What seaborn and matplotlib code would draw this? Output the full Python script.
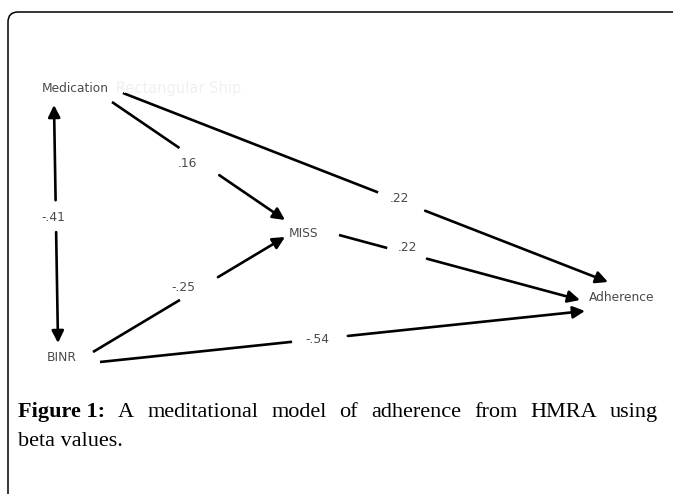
import numpy as np
import matplotlib
matplotlib.use("Agg")
import matplotlib.pyplot as plt
from matplotlib.path import Path
from matplotlib.patches import PathPatch
import seaborn as sns

# path model: variables and beta weights
nodes = ["Medication", "MISS", "BINR", "Adherence"]
sources = ["Medication", "Medication", "MISS", "BINR", "BINR", "Medication"]
targets = ["MISS", "Adherence", "Adherence", "MISS", "Adherence", "BINR"]
betas = [0.16, 0.22, 0.22, -0.25, -0.54, -0.41]
two_way = [False, False, False, False, False, True]

caption_bold = "Figure 1:"
caption_line1 = "A meditational model of adherence from HMRA using"
caption_line2 = "beta values."

# layout (pixel space of the figure)
node_xy = {"Medication": (75, 88), "MISS": (304, 233),
           "BINR": (62, 357), "Adherence": (622, 297)}
edge_start = [(112, 102), (123, 93), (339, 235), (93, 352), (100, 362), (54, 105)]
edge_end = [(285, 220), (608, 282), (580, 300), (285, 237), (585, 311), (58, 343)]
gaps = [(0.39, 0.62), (0.526, 0.623), (0.20, 0.365), (0.453, 0.651),
        (0.396, 0.511), (0.40, 0.534)]
label_xy = [(187, 163), (399, 198), (407, 247), (183, 287), (317, 339), (53, 217)]

sns.set_theme(style="white")
plt.rcParams["font.family"] = ["DejaVu Sans"]

fig = plt.figure(figsize=(6.73, 4.94), dpi=100)
ax = fig.add_axes([0, 0, 1, 1])
ax.set_xlim(0, 673)
ax.set_ylim(494, 0)
ax.axis("off")

# frame with rounded top-left corner
frame = Path([(8, 494), (8, 22), (8, 12), (18, 12), (673, 12)],
             [Path.MOVETO, Path.LINETO, Path.CURVE3, Path.CURVE3, Path.LINETO])
ax.add_patch(PathPatch(frame, fill=False, edgecolor="black", lw=1.1))

txt_col = "#4a4a4a"
for name in nodes:
    x, y = node_xy[name]
    ax.text(x, y, name, ha="center", va="center", fontsize=8.8, color=txt_col)

# faint leftover text from the source graphic
ax.text(116, 88, "Rectangular Ship", ha="left", va="center", fontsize=10.5,
        color="#f0f0f0")

arrow = dict(arrowstyle="-|>,head_length=0.6,head_width=0.3", color="black",
             lw=1.9, shrinkA=0, shrinkB=0, mutation_scale=12)


def fmt(b):
    return f"{b:.2f}".replace("0.", ".")


for s, e, (t0, t1), lab, b, both in zip(edge_start, edge_end, gaps, label_xy,
                                        betas, two_way):
    s = np.array(s, float)
    e = np.array(e, float)
    a = s + t0 * (e - s)
    c = s + t1 * (e - s)
    if both:
        ax.annotate("", xy=s, xytext=a, arrowprops=arrow)
    else:
        ax.plot([s[0], a[0]], [s[1], a[1]], color="black", lw=1.9,
                solid_capstyle="butt")
    ax.annotate("", xy=e, xytext=c, arrowprops=arrow)
    ax.text(lab[0], lab[1], fmt(b), ha="center", va="center", fontsize=8.8,
            color=txt_col)

# justified caption
serif = ["Liberation Serif", "DejaVu Serif"]
fig.canvas.draw()
r = fig.canvas.get_renderer()
words = [(caption_bold, "bold")] + [(w, "normal") for w in caption_line1.split()]
objs = []
for w, wt in words:
    t = ax.text(0, 417, w, ha="left", va="baseline", fontsize=16,
                family=serif, fontweight=wt, color="black")
    objs.append(t)
widths = [t.get_window_extent(r).width for t in objs]
x0, x1 = 18, 658
gap = (x1 - x0 - sum(widths)) / (len(objs) - 1)
x = x0
for t, w in zip(objs, widths):
    t.set_x(x)
    x += w + gap

ax.text(x0, 446, caption_line2, ha="left", va="baseline", fontsize=16,
        family=serif, color="black")

fig.savefig("out.png", dpi=100)
